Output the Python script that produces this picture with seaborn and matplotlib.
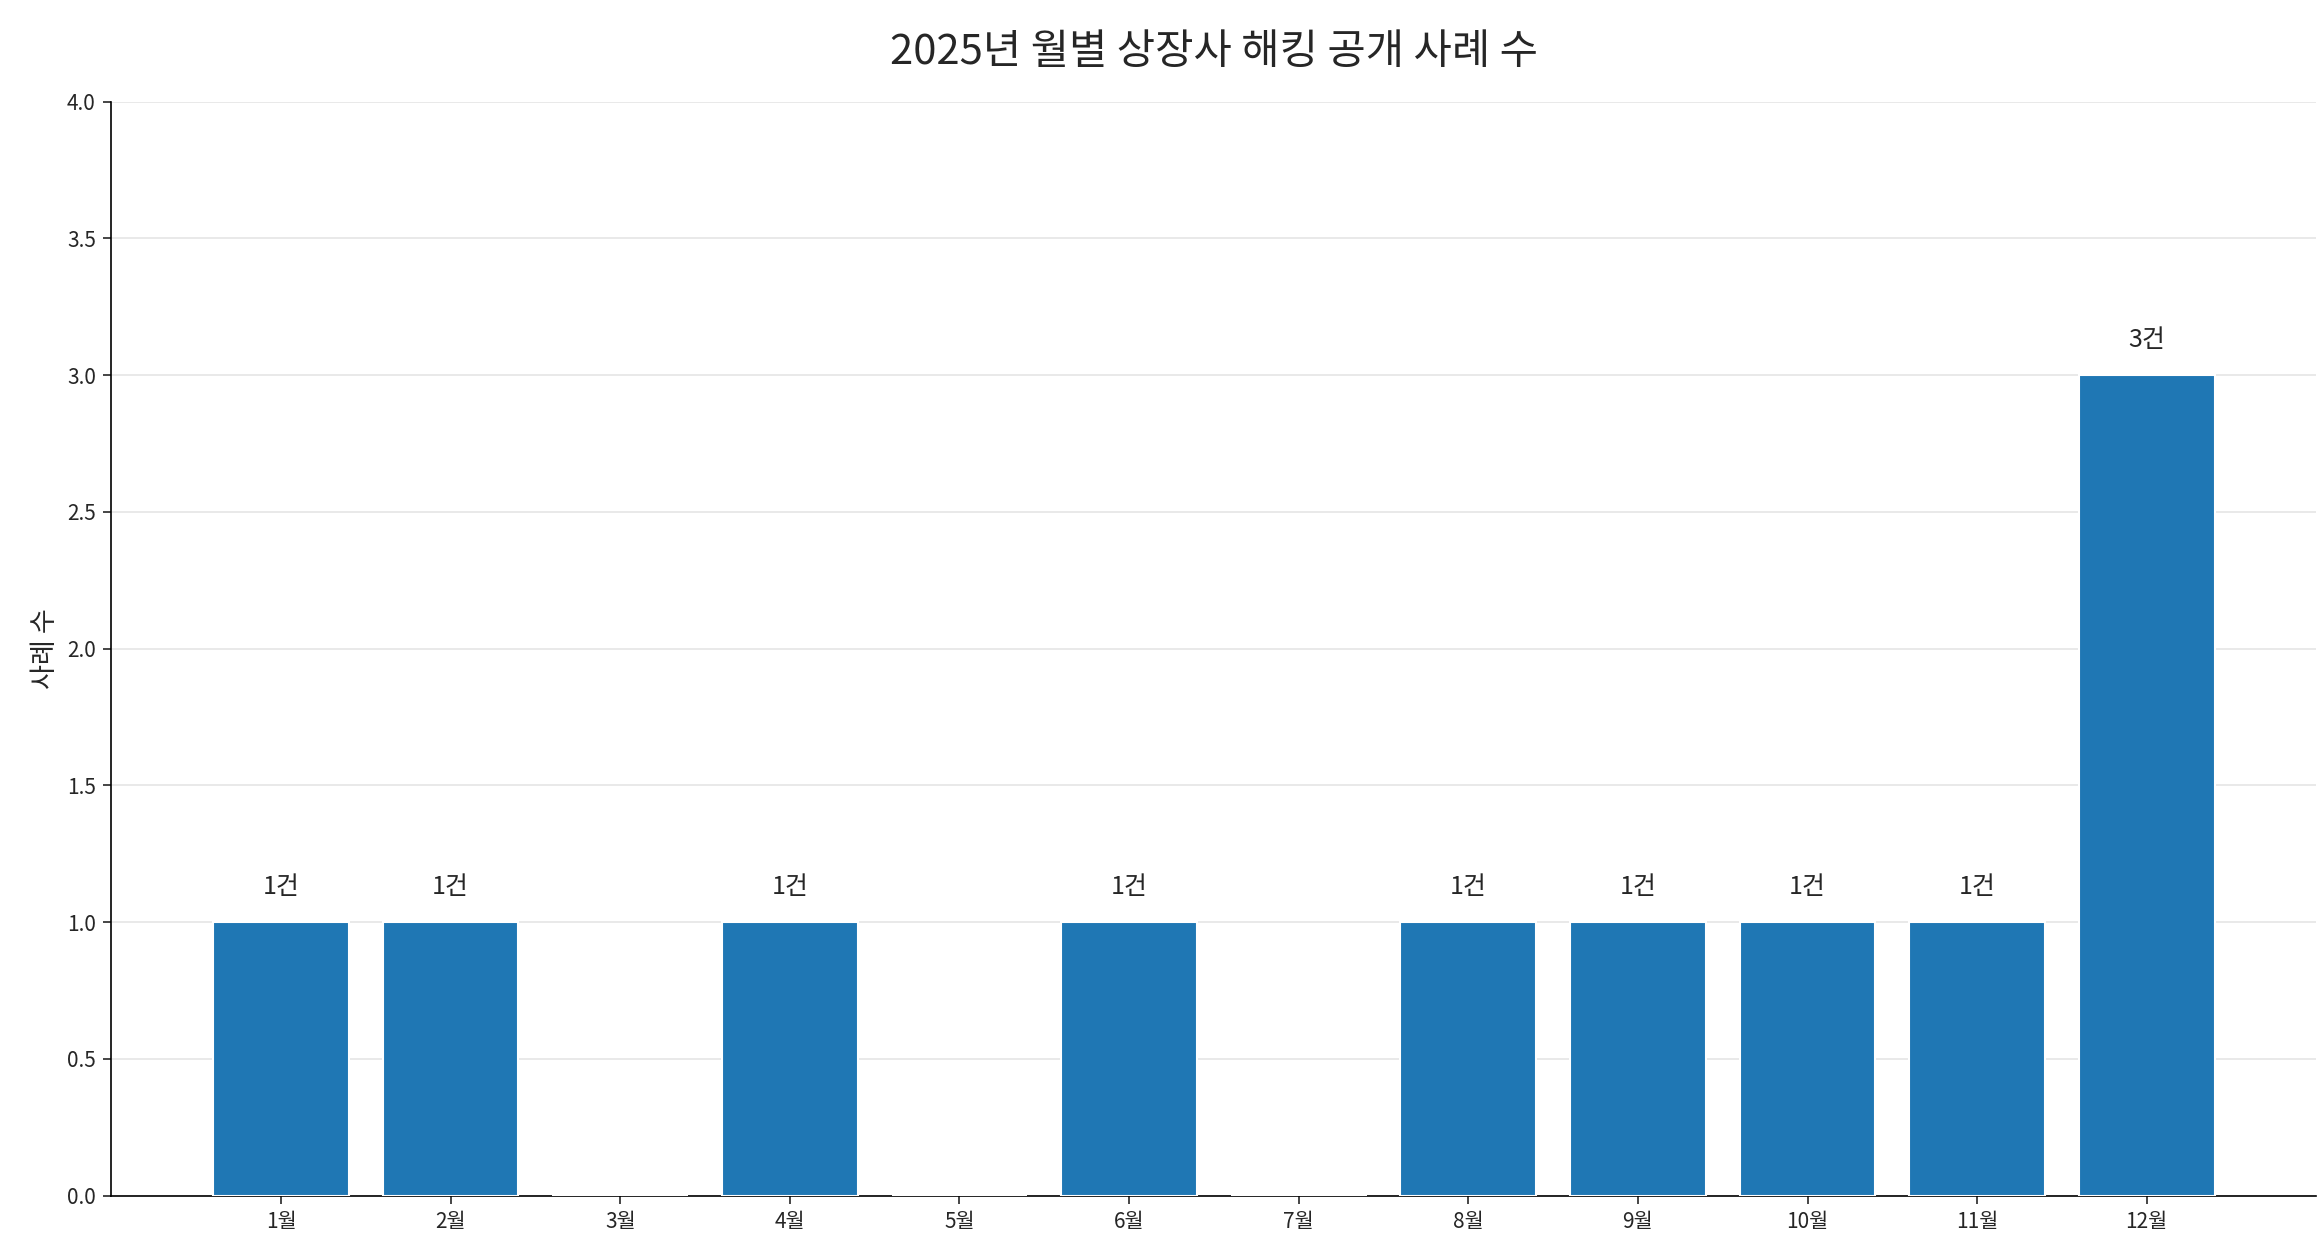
import matplotlib
matplotlib.use("Agg")
import matplotlib.pyplot as plt
import seaborn as sns
import pandas as pd

months = ["1월","2월","3월","4월","5월","6월","7월","8월","9월","10월","11월","12월"]
counts = [1,1,0,1,0,1,0,1,1,1,1,3]

sns.set_style("white")
plt.rcParams['font.family'] = ['Noto Sans CJK KR', 'DejaVu Sans']

df = pd.DataFrame({"month": months, "count": counts})
fig, ax = plt.subplots(figsize=(2321/150, 1239/150), dpi=150)
sns.barplot(data=df, x="month", y="count", color="#1f77b4", saturation=1, width=0.8, ax=ax, zorder=3)
ax.set_xlim(-1, 12)
ax.set_ylim(0, 4)
ax.set_yticks([0,0.5,1,1.5,2,2.5,3,3.5,4])
ax.set_yticklabels([f"{v:.1f}" for v in ax.get_yticks()])
ax.grid(axis="y", color="#e5e5e5", linewidth=0.8, zorder=0)
ax.set_axisbelow(True)
for s in ["top","right"]:
    ax.spines[s].set_visible(False)
for s in ["left","bottom"]:
    ax.spines[s].set_color("black")
ax.tick_params(axis="both", labelsize=10, length=4, left=True, bottom=True)
ax.set_xlabel("")
ax.set_ylabel("사례 수", fontsize=13)
ax.set_title("2025년 월별 상장사 해킹 공개 사례 수", fontsize=20, pad=18)
for i, c in enumerate(counts):
    if c > 0:
        ax.text(i, c + 0.08, f"{c}건", ha="center", va="bottom", fontsize=12)
fig.subplots_adjust(left=0.048, right=0.998, top=0.918, bottom=0.035)
fig.savefig("out.png", dpi=150)
